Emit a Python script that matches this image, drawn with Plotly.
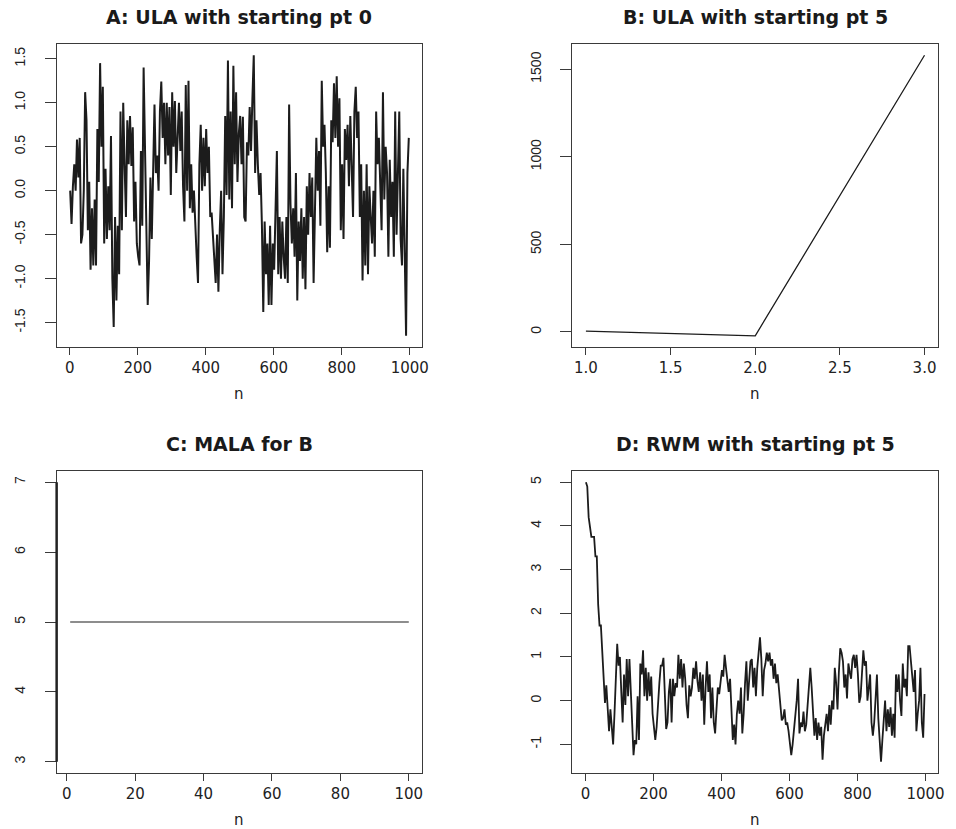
import numpy as np
import plotly.graph_objects as go

# ---- data -------------------------------------------------------------
# A: ULA chain started at 0 (sampled every 4th iteration)
n_a = list(range(1, 1001, 4))
ula_0 = [
    0.0, -0.38, 0.05, 0.3, 0.0,
    0.58, 0.15, 0.6, -0.6, -0.5,
    0.0, 1.12, 0.8, -0.45, 0.1,
    -0.9, -0.2, -0.85, -0.1, -0.85,
    0.7, 0.1, 1.45, 0.5, 1.18,
    -0.6, 0.25, -0.55, 0.05, -0.45,
    0.62, -1.0, -1.55, -0.3, -1.25,
    -0.4, -0.95, 0.9, -0.45, 1.0,
    0.3, -0.3, 0.8, 0.3, 0.85,
    0.28, 0.72, -0.35, 0.1, -0.6,
    -0.75, -0.85, 0.45, -0.4, 1.4,
    0.6, -0.15, -1.3, -0.8, 0.15,
    -0.55, 0.15, 0.98, 0.2, 0.4,
    0.0, 0.9, 1.24, 0.6, 1.0,
    0.3, 1.0, 0.4, 0.95, -0.05,
    1.12, 0.5, 1.02, 0.2, 0.6,
    1.0, 0.45, 0.9, 0.05, -0.35,
    1.2, 0.0, 1.25, -0.2, 0.3,
    -0.25, 0.0, -0.5, -0.75, -1.05,
    0.3, 0.75, 0.0, 0.6, 0.05,
    0.7, 0.2, 0.5, -0.3, -0.25,
    -0.55, -0.8, -1.05, -0.5, -1.15,
    -0.45, 0.0, -0.95, -0.3, 0.85,
    -0.05, 1.48, -0.1, 0.9, -0.2,
    1.42, 0.3, 1.12, 0.1, 0.65,
    0.85, 0.3, 0.84, -0.3, -0.35,
    0.55, 0.4, 0.95, 0.45, 1.05,
    1.54, 0.2, 0.8, 0.3, -0.05,
    0.2, -0.4, -1.38, -0.35, -0.95,
    -0.6, -1.3, -0.4, -1.3, -0.6,
    -0.9, -0.25, 0.45, -0.95, -0.3,
    -1.0, -0.35, -0.75, -1.0, -0.3,
    -1.05, 0.98, -0.15, -0.6, -0.2,
    -0.75, 0.2, -1.25, -0.35, -0.8,
    -0.2, -1.0, -0.3, -1.12, 0.05,
    -0.5, 0.2, -0.3, 0.15, -1.05,
    -0.4, 0.6, 0.0, 0.45, -0.4,
    1.25, 0.5, 0.75, 0.2, -0.7,
    0.05, -0.65, 0.8, 0.55, 1.22,
    0.6, 1.3, 0.5, 1.05, -0.45,
    0.3, -0.55, 0.7, 0.35, 0.75,
    0.05, 0.85, 0.2, -0.3, 0.9,
    1.18, 0.6, 0.9, -0.3, 0.3,
    -1.02, 0.0, -0.85, 0.3, -0.95,
    0.05, -0.3, -0.6, 0.0, -0.75,
    0.9, 0.3, 0.6, 0.0, -0.45,
    1.12, -0.1, 0.5, 0.2, -0.75,
    0.35, -0.3, 0.1, -0.75, 0.9,
    -0.5, 0.4, 0.9, -0.55, -0.85,
    0.25, -0.95, -1.65, 0.2, 0.6,
]

# B: ULA chain started at 5 (diverges after three steps)
n_b = [1, 2, 3]
ula_5 = [5, -22, 1580]

# C: MALA chain started at 5 (never moves)
n_c = list(range(1, 101))
mala_5 = [5] * 100

# D: RWM chain started at 5 (sampled every 4th iteration)
n_d = list(range(1, 1001, 4))
rwm_5 = [
    5.0, 4.9, 4.2, 3.9, 3.75, 3.75, 3.75, 3.3, 3.3, 2.2,
    1.72, 1.72, 1.0, 0.5, -0.05, 0.35, -0.1, -0.7, -0.2, -0.75,
    -1.0, -0.3, 0.45, 1.3, 0.8, 1.0, 0.2, -0.5, 0.6, -0.1,
    0.95, 0.1, 0.95, 0.2, -0.9, -1.25, -0.9, -1.0, 0.1, -0.9,
    0.85, 0.6, 1.15, 0.1, 0.75, 0.0, 0.65, 0.1, 0.55, -0.3,
    -0.6, -0.9, -0.6, 0.0, 0.4, 0.8, 0.8, 0.98, 0.3, -0.65,
    -0.5, 0.2, 0.5, -0.5, 0.5, 0.1, 0.4, 0.3, 1.05, 0.5,
    0.95, 0.3, 0.85, 0.5, -0.1, -0.4, 0.35, 0.1, 0.3, 0.75,
    0.5, 0.9, 0.45, 0.2, 0.65, 0.0, 0.6, -0.55, 0.3, 0.9,
    0.2, 0.6, -0.4, 0.3, -0.5, -0.75, -0.2, 0.3, 0.15, 0.5,
    0.7, 0.55, 1.05, 0.75, 0.4, 0.2, 0.5, -0.1, -0.9, -0.55,
    -1.0, -0.3, 0.0, -0.3, 0.3, -0.75, -0.3, 0.4, 0.9, 0.0,
    0.6, 0.9, 0.95, 0.3, 0.75, 0.1, 0.75, 1.2, 1.45, 0.95,
    0.1, 0.7, 0.85, 1.1, 0.9, 1.1, 0.8, 0.95, 0.5, 0.85,
    0.4, 0.6, 0.3, -0.15, -0.45, -0.4, -0.2, -0.55, -0.5, -0.7,
    -1.0, -1.25, -1.0, -0.7, -0.3, 0.0, 0.5, -0.75, -0.5, -0.6,
    -0.25, -0.7, -0.55, -0.05, 0.45, 0.75, 0.3, -0.3, -0.8, -0.4,
    -0.9, -0.5, -0.8, -0.6, -1.35, -0.8, -0.5, -0.3, -0.7, -0.1,
    -0.55, 0.0, -0.2, 0.75, 0.4, -0.2, 0.65, 1.2, 1.1, 0.9,
    0.3, 0.6, 0.05, 0.85, 0.65, 0.5, 0.95, 1.05, 0.75, 1.05,
    0.6, -0.05, 0.1, 0.6, 1.15, 0.8, 0.9, 0.0, 0.4, 0.6,
    -0.5, -0.8, -0.5, 0.25, 0.6, -0.4, -0.9, -1.4, -0.9, -0.5,
    0.0, -0.7, -0.2, -0.6, -0.15, -0.8, -0.3, -0.85, 0.6, 0.2,
    0.6, 0.0, -0.35, 0.85, 0.3, 0.5, 0.1, 1.25, 1.25, 0.9,
    0.5, 0.2, 0.7, -0.7, -0.3, 0.0, 0.75, -0.5, -0.85, 0.15,
]

titles = ["A: ULA with starting pt 0", "B: ULA with starting pt 5",
          "C: MALA for B", "D: RWM with starting pt 5"]

ticks_a_x = [0, 200, 400, 600, 800, 1000]
ticks_a_y = [-1.5, -1.0, -0.5, 0.0, 0.5, 1.0, 1.5]
labels_a_y = ["-1.5", "-1.0", "-0.5", "0.0", "0.5", "1.0", "1.5"]
ticks_b_x = [1.0, 1.5, 2.0, 2.5, 3.0]
labels_b_x = ["1.0", "1.5", "2.0", "2.5", "3.0"]
ticks_b_y = [0, 500, 1000, 1500]
ticks_c_x = [0, 20, 40, 60, 80, 100]
ticks_c_y = [3, 4, 5, 6, 7]
ticks_d_x = [0, 200, 400, 600, 800, 1000]
ticks_d_y = [-1, 0, 1, 2, 3, 4, 5]
labels_d_y = ["-1", "0", "1", "2", "3", "4", "5"]


def padded(lo, hi, frac=0.04):
    """R-style axis range: data range widened by 4% on each side."""
    span = hi - lo
    if span == 0:
        lo, hi = lo - 0.4 * abs(lo), hi + 0.4 * abs(hi)
        span = hi - lo
    return [lo - frac * span, hi + frac * span]


# ---- figure -----------------------------------------------------------
W, H = 956, 829
LINE = "#1c1c1c"
AXIS = "#3a3a3a"
tick_font = dict(family="DejaVu Sans", size=15, color="#222")
ytick_font = dict(family="Liberation Sans Narrow, Liberation Sans", size=14, color="#222")

fig = go.Figure()
fig.add_trace(go.Scatter(x=n_a, y=ula_0, mode="lines", line=dict(color=LINE, width=2.0),
                         xaxis="x", yaxis="y"))
fig.add_trace(go.Scatter(x=n_b, y=ula_5, mode="lines", line=dict(color=LINE, width=1.3),
                         xaxis="x2", yaxis="y2"))
fig.add_trace(go.Scatter(x=n_c, y=mala_5, mode="lines", line=dict(color=LINE, width=1.1),
                         xaxis="x3", yaxis="y3"))
fig.add_trace(go.Scatter(x=n_d, y=rwm_5, mode="lines", line=dict(color=LINE, width=1.8),
                         xaxis="x4", yaxis="y4"))

# panel boxes, in pixels of the page
left_col = (57, 425)
right_col = (576, 944)
top_row = (44, 347)
bot_row = (471, 773)


def xdom(c):
    return [c[0] / W, c[1] / W]


def ydom(r):
    return [1 - r[1] / H, 1 - r[0] / H]


def xaxis(dom, rng, vals, text, anchor):
    return dict(domain=dom, range=rng, tickvals=vals, ticktext=text, anchor=anchor,
                showline=True, mirror=True, linecolor=AXIS, linewidth=1,
                ticks="outside", ticklen=7, tickwidth=1, tickcolor=AXIS,
                showgrid=False, zeroline=False, tickfont=tick_font,
                ticklabelstandoff=0)


def yaxis(dom, rng, vals, text, anchor):
    return dict(domain=dom, range=rng, tickvals=vals, ticktext=text, anchor=anchor,
                showline=True, mirror=True, linecolor=AXIS, linewidth=1,
                ticks="outside", ticklen=11, tickwidth=1, tickcolor=AXIS,
                showgrid=False, zeroline=False, tickfont=ytick_font, tickangle=-90,
                ticklabelstandoff=14)


panels = [
    ("", left_col, top_row, n_a, ula_0, ticks_a_x, [str(v) for v in ticks_a_x], ticks_a_y, labels_a_y),
    ("2", right_col, top_row, n_b, ula_5, ticks_b_x, labels_b_x, ticks_b_y, [str(v) for v in ticks_b_y]),
    ("3", left_col, bot_row, n_c, mala_5, ticks_c_x, [str(v) for v in ticks_c_x], ticks_c_y, [str(v) for v in ticks_c_y]),
    ("4", right_col, bot_row, n_d, rwm_5, ticks_d_x, [str(v) for v in ticks_d_x], ticks_d_y, labels_d_y),
]

layout = {}
annotations = []
for (sfx, col, row, xs, ys, xv, xt, yv, yt), title in zip(panels, titles):
    layout["xaxis" + sfx] = xaxis(xdom(col), padded(min(xs), max(xs)), xv, xt, "y" + sfx)
    layout["yaxis" + sfx] = yaxis(ydom(row), padded(min(ys), max(ys)), yv, yt, "x" + sfx)
    box_h = row[1] - row[0]
    annotations.append(dict(text="<b>" + title + "</b>", xref="x%s domain" % sfx,
                            yref="y%s domain" % sfx, x=0.5, y=1 + 27.5 / box_h,
                            xanchor="center", yanchor="middle", showarrow=False,
                            font=dict(family="DejaVu Sans", size=19, color="#1a1a1a")))
    annotations.append(dict(text="n", xref="x%s domain" % sfx, yref="y%s domain" % sfx,
                            x=0.5, y=-47 / box_h, xanchor="center", yanchor="middle",
                            showarrow=False, font=tick_font))

fig.update_layout(
    **layout,
    annotations=annotations,
    width=W, height=H,
    margin=dict(l=0, r=0, t=0, b=0),
    paper_bgcolor="white", plot_bgcolor="white",
    showlegend=False,
    shapes=[dict(type="line", xref="x3 domain", yref="y3", x0=0, x1=0,
                 y0=ticks_c_y[0], y1=ticks_c_y[-1], line=dict(color="#222", width=2.5))],
)

fig.write_html("out.html")
